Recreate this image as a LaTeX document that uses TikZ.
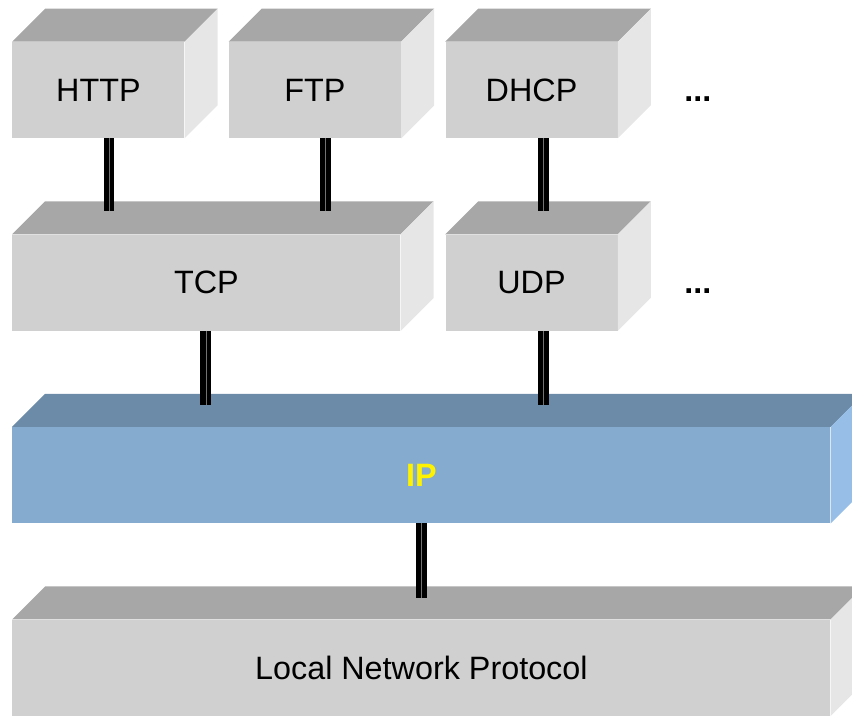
\documentclass[tikz,border=0pt]{standalone}
\usepackage{fontspec}
\setmainfont{Liberation Sans}
\usetikzlibrary{positioning, calc}
\definecolor{FrontGray}{RGB}{208,208,208}
\definecolor{TopGray}{RGB}{166,167,166}
\definecolor{SideGray}{RGB}{230,230,230}
\definecolor{FrontBlue}{RGB}{133,171,206}
\definecolor{TopBlue}{RGB}{108,139,168}
\definecolor{SideBlue}{RGB}{150,190,230}

\begin{document}
\begin{tikzpicture}[
    layer/.style={fill=FrontGray, inner sep=0pt, minimum width=4.3cm, minimum height=2.4cm,
        font=\fontsize{23}{27}\selectfont},
    iplayer/.style={layer, fill=FrontBlue, text=yellow, font=\fontsize{23}{27}\selectfont\bfseries},
    link/.style={draw=black, line width=3.7pt, double=black!55, double distance=0.4pt},
    more/.style={font=\fontsize{23}{27}\selectfont\bfseries},
]
\useasboundingbox (0,0) rectangle (21.3,17.9);
\clip (0,0) rectangle (21.3,17.9);

% application
\node[layer] (http) at (2.46,15.65) {HTTP};
\node[layer, right=1.1cm of http] (ftp) {FTP};
\node[layer, right=1.1cm of ftp] (dhcp) {DHCP};
\node[more, anchor=base] (more1) at ($(dhcp.base)+(4.16,0)$) {...};

% transport
\node[layer, minimum width=9.7cm, below right=2.4cm and 0cm of http.south west] (tcp) {TCP};
\node[layer, below=2.4cm of dhcp] (udp) {UDP};
\node[more, anchor=base] (more2) at ($(udp.base)+(4.16,0)$) {...};

% network and link
\node[iplayer, minimum width=20.45cm, below right=2.4cm and 0cm of tcp.south west] (ip) {IP};
\node[layer, minimum width=20.45cm, below right=2.4cm and 0cm of ip.south west] (lnp) {Local Network Protocol};

% top and side faces
\foreach \n/\t/\s in {http/TopGray/SideGray, ftp/TopGray/SideGray, dhcp/TopGray/SideGray,
    tcp/TopGray/SideGray, udp/TopGray/SideGray, ip/TopBlue/SideBlue, lnp/TopGray/SideGray} {
  \fill[\t] (\n.north west) -- ++(0.825,0.825) -- ($(\n.north east)+(0.825,0.825)$) -- (\n.north east) -- cycle;
  \fill[\s] (\n.north east) -- ++(0.825,0.825) -- ($(\n.south east)+(0.825,0.825)$) -- (\n.south east) -- cycle;
}

% ends of the connectors on the top faces
\coordinate (tcp-in1) at ($(tcp.north)+(-2.435,0.575)$);
\coordinate (tcp-in2) at ($(tcp.north)+(2.975,0.575)$);
\coordinate (udp-in) at ($(udp.north)+(0.29,0.575)$);
\coordinate (ip-in1) at ($(ip.north)+(-5.39,0.55)$);
\coordinate (ip-in2) at ($(ip.north -| udp-in)+(0,0.55)$);
\coordinate (lnp-in) at ($(lnp.north)+(0,0.525)$);

% connectors
\draw[link] (tcp-in1 |- http.south) -- (tcp-in1);
\draw[link] (tcp-in2 |- ftp.south) -- (tcp-in2);
\draw[link] (udp-in |- dhcp.south) -- (udp-in);
\draw[link] (ip-in1 |- tcp.south) -- (ip-in1);
\draw[link] (ip-in2 |- udp.south) -- (ip-in2);
\draw[link] (lnp-in |- ip.south) -- (lnp-in);

\end{tikzpicture}
\end{document}
